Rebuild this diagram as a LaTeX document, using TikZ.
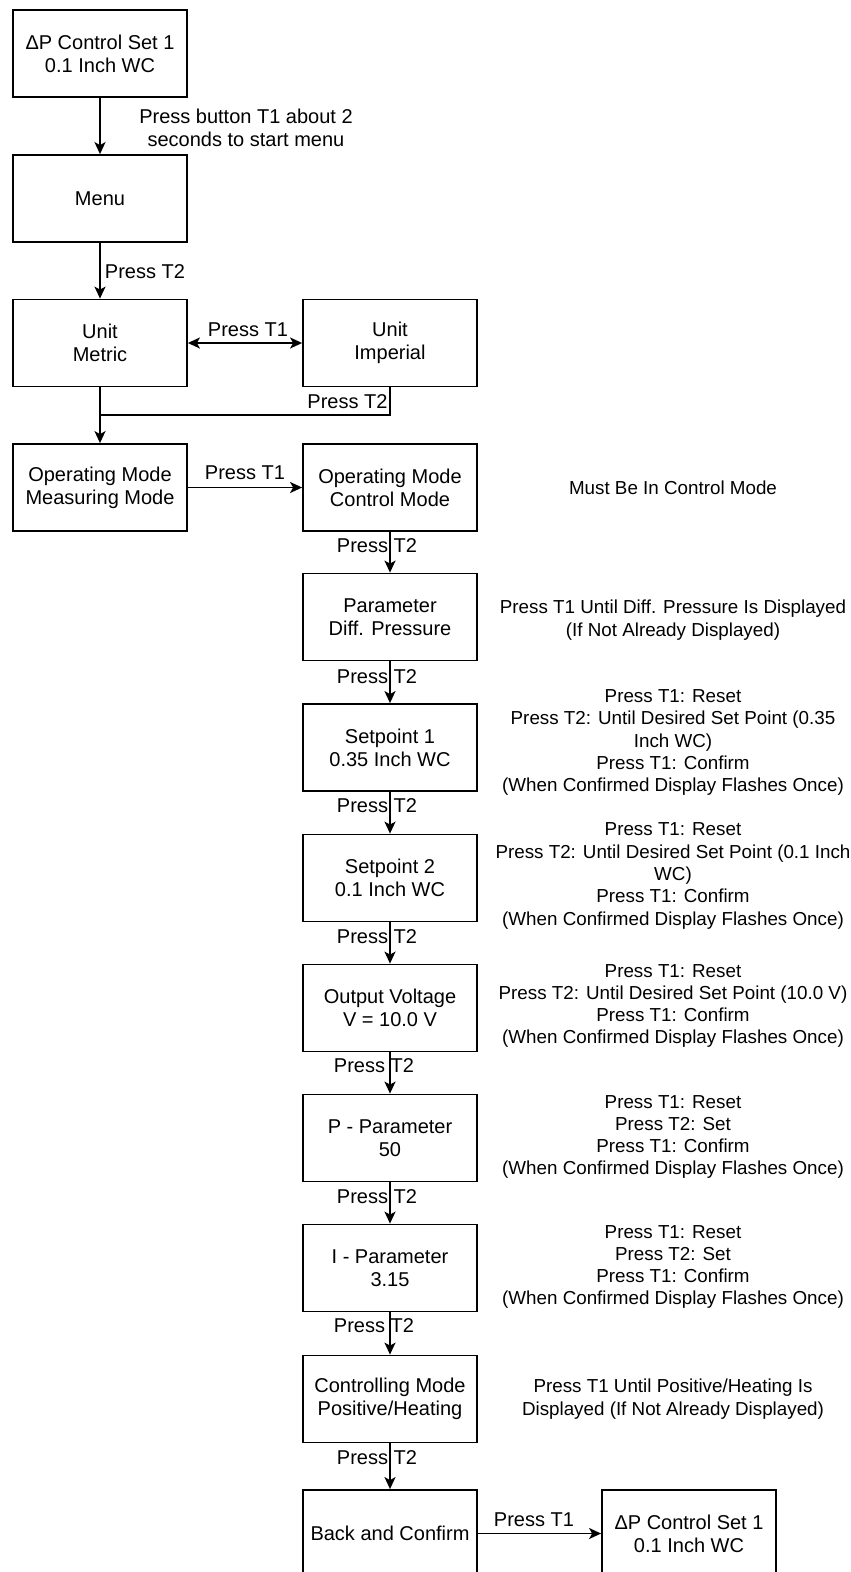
\documentclass[tikz,border=0pt]{standalone}
\usepackage{fontspec}
\setmainfont{Liberation Sans}
\usetikzlibrary{arrows.meta}
\begin{document}
\begin{tikzpicture}[x=1pt,y=-1pt,
  box/.style={draw, line width=1.8pt, minimum width=174pt, minimum height=87pt, align=center, inner sep=2pt, font=\fontsize{20}{23}\selectfont},
  lbl/.style={align=center, font=\fontsize{20}{23}\selectfont, inner sep=0pt},
  note/.style={align=center, font=\fontsize{18.8}{22.3}\selectfont, inner sep=0pt},
  conn/.style={line width=1.8pt, -{Stealth[length=12pt,width=11pt,inset=3pt]}},
  plain/.style={line width=1.8pt},
]
\useasboundingbox (0,0) rectangle (851,1572);
\clip (0,0) rectangle (851,1572);
% left column
\node[box] (b1) at (100,53.5) {ΔP Control Set 1\\0.1 Inch WC};
\node[box] (menu) at (100,198.5) {Menu};
\node[box] (metric) at (100,343) {Unit\\Metric};
\node[box] (imperial) at (390,343) {Unit\\Imperial};
\node[box] (measuring) at (100,487.5) {Operating Mode\\Measuring Mode};
\node[box] (control) at (390,487.5) {Operating Mode\\Control Mode};
% right column
\node[box] (param) at (390,617) {Parameter\\Diff. Pressure};
\node[box] (sp1) at (390,747.5) {Setpoint 1\\0.35 Inch WC};
\node[box] (sp2) at (390,878) {Setpoint 2\\0.1 Inch WC};
\node[box] (ov) at (390,1008) {Output Voltage\\V = 10.0 V};
\node[box] (pp) at (390,1138) {P - Parameter\\50};
\node[box] (ip) at (390,1268) {I - Parameter\\3.15};
\node[box] (cm) at (390,1399) {Controlling Mode\\Positive/Heating};
\node[box] (bc) at (390,1533.5) {Back and Confirm};
\node[box] (final) at (689,1533.5) {ΔP Control Set 1\\0.1 Inch WC};
% connectors
\draw[conn] (b1) -- (menu);
\node[lbl] (l1) at (246,128) {Press button T1 about 2\\seconds to start menu};
\draw[conn] (menu) -- (metric);
\node[lbl] (l2) at (145,272) {Press T2};
\draw[line width=1.8pt, {Stealth[length=12pt,width=11pt,inset=3pt]}-{Stealth[length=12pt,width=11pt,inset=3pt]}] (metric) -- (imperial);
\node[lbl] (l3) at (248,330) {Press T1};
\coordinate (j) at (100,415);
\draw[conn] (metric) -- (measuring);
\draw[plain] (imperial.south) |- (j);
\node[lbl] (l4) at (347.5,402) {Press T2};
\draw[conn] (measuring) -- (control);
\node[lbl] (l5) at (245,473) {Press T1};
\draw[conn] (control) -- (param);
\node[lbl] (l6) at (377,546) {Press T2};
\draw[conn] (param) -- (sp1);
\node[lbl] (l7) at (377,677) {Press T2};
\draw[conn] (sp1) -- (sp2);
\node[lbl] (l8) at (377,806) {Press T2};
\draw[conn] (sp2) -- (ov);
\node[lbl] (l9) at (377,937) {Press T2};
\draw[conn] (ov) -- (pp);
\node[lbl] (l10) at (374,1066) {Press T2};
\draw[conn] (pp) -- (ip);
\node[lbl] (l11) at (377,1197) {Press T2};
\draw[conn] (ip) -- (cm);
\node[lbl] (l12) at (374,1326) {Press T2};
\draw[conn] (cm) -- (bc);
\node[lbl] (l13) at (377,1458) {Press T2};
\draw[conn] (bc) -- (final);
\node[lbl] (l14) at (534,1520) {Press T1};
% notes
\node[note] (n1) at (673,488) {Must Be In Control Mode};
\node[note] (n2) at (673,620) {Press T1 Until Diff. Pressure Is Displayed\\(If Not Already Displayed)};
\node[note] (n3) at (673,742.5) {Press T1: Reset\\Press T2: Until Desired Set Point (0.35\\Inch WC)\\Press T1: Confirm\\(When Confirmed Display Flashes Once)};
\node[note] (n4) at (673,876) {Press T1: Reset\\Press T2: Until Desired Set Point (0.1 Inch\\WC)\\Press T1: Confirm\\(When Confirmed Display Flashes Once)};
\node[note] (n5) at (673,1006) {Press T1: Reset\\Press T2: Until Desired Set Point (10.0 V)\\Press T1: Confirm\\(When Confirmed Display Flashes Once)};
\node[note] (n6) at (673,1137) {Press T1: Reset\\Press T2: Set\\Press T1: Confirm\\(When Confirmed Display Flashes Once)};
\node[note] (n7) at (673,1267) {Press T1: Reset\\Press T2: Set\\Press T1: Confirm\\(When Confirmed Display Flashes Once)};
\node[note] (n8) at (673,1399) {Press T1 Until Positive/Heating Is\\Displayed (If Not Already Displayed)};
\end{tikzpicture}
\end{document}
